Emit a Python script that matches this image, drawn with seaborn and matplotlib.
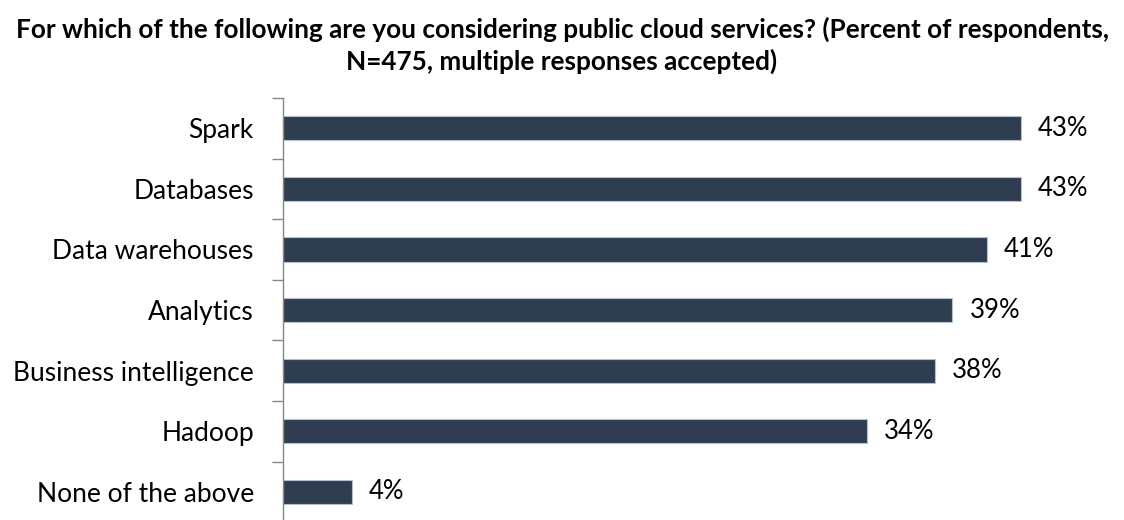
import matplotlib
matplotlib.use("Agg")
import matplotlib.pyplot as plt
import seaborn as sns
import pandas as pd
from matplotlib.ticker import FixedLocator

categories = ["Spark", "Databases", "Data warehouses", "Analytics",
              "Business intelligence", "Hadoop", "None of the above"]
values = [43, 43, 41, 39, 38, 34, 4]
value_labels = ["43%", "43%", "41%", "39%", "38%", "34%", "4%"]
title = ("For which of the following are you considering public cloud services? (Percent of respondents,\n"
         "N=475, multiple responses accepted)")

sns.set_theme(style="white")
plt.rcParams['font.family'] = ['Lato', 'DejaVu Sans']

df = pd.DataFrame({"category": categories, "value": values})

fig = plt.figure(figsize=(11.24, 5.2), dpi=100)
ax = fig.add_axes([283/1124, -0.004, 1 - 283/1124, 0.8155])

sns.barplot(data=df, y="category", x="value", orient="h", color="#2E3D50",
            saturation=1, width=0.4, edgecolor="#B8C0CA", linewidth=0.8, ax=ax)

ax.set_xlim(0, 49)
ax.set_ylim(6.5, -0.5)
ax.set_xlabel("")
ax.set_ylabel("")
ax.set_xticks([])
for s in ["top", "right", "bottom"]:
    ax.spines[s].set_visible(False)
ax.spines["left"].set_color("#868686")
ax.spines["left"].set_linewidth(1.0)

ax.set_yticks(range(len(categories)))
ax.set_yticklabels(categories, fontsize=19, color="#000000")
ax.tick_params(axis="y", which="major", length=0, pad=21)
ax.yaxis.set_minor_locator(FixedLocator([i - 0.5 for i in range(len(categories) + 1)]))
ax.tick_params(axis="y", which="minor", length=8, width=1.0, color="#868686", direction="out", left=True)

for i, (v, lab) in enumerate(zip(values, value_labels)):
    ax.text(v + 1.0, i, lab, va="center", ha="left", fontsize=18.5, color="#000000")

fig.text(0.5, 0.968, title, ha="center", va="top", fontsize=18.8,
         fontweight="bold", linespacing=1.3, color="#000000")

fig.savefig("out.png", dpi=100)
